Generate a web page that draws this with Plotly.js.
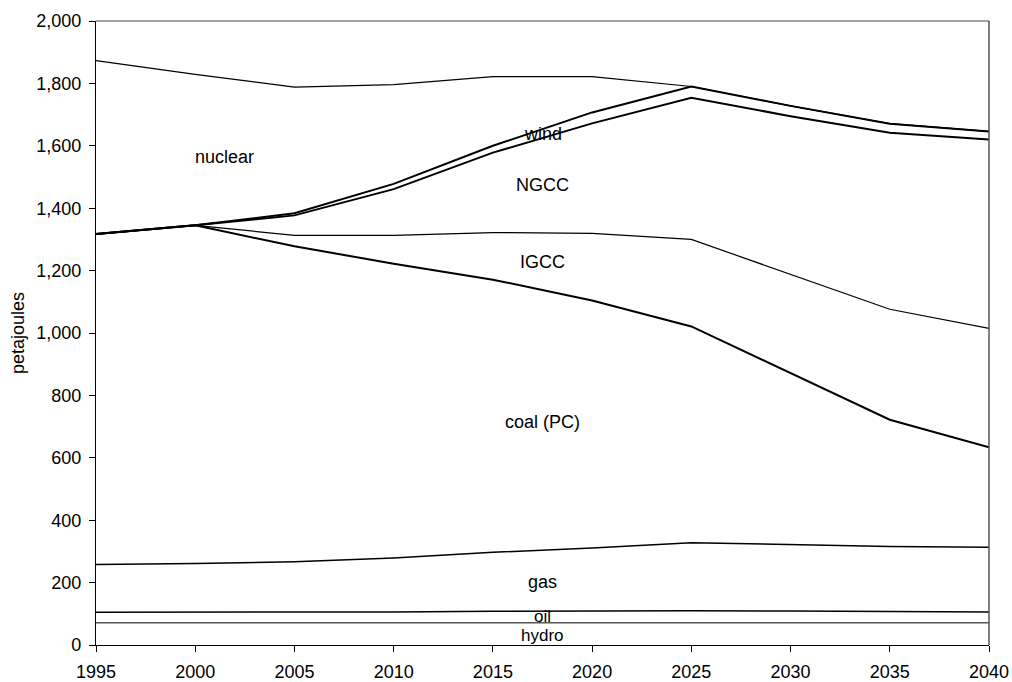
<!DOCTYPE html>
<html><head><meta charset="utf-8">
<script src="https://cdn.plot.ly/plotly-3.0.1.min.js"></script>
<style>html,body{margin:0;padding:0;background:#fff}#chart{width:1012px;height:682px}</style>
</head><body><div id="chart"></div>
<script>
const years = [1995,2000,2005,2010,2015,2020,2025,2030,2035,2040];
const seriesNames = ['hydro','oil','gas','coal (PC)','IGCC','NGCC','wind','nuclear'];
const hydro   = [71,71,71,71,71,71,71,71,71,71];
const oil     = [34,34,34,35,37,39,39,38,36,35];
const gas     = [153,156,162,173,189,201,218,212,209,207];
const coalPC  = [1059,1084,1011,943,874,793,693,551,406,321];
const igcc    = [0,0,35,91,151,215,279,316,354,381];
const ngcc    = [0,0,64,148,256,353,454,507,566,605];
const wind    = [0,0,7,17,22,35,36,33,29,26];
const nuclear = [556,484,404,318,222,115,0,0,0,0];
const yTicks = [0,200,400,600,800,1000,1200,1400,1600,1800,2000];

const series = [hydro, oil, gas, coalPC, igcc, ngcc, wind, nuclear];
const widths = [1, 1.5, 1.5, 2, 1.2, 2, 2, 1.2];
const FONT = 'Liberation Sans, Arial, sans-serif';

const traces = [];
let cum = years.map(() => 0);
series.forEach((s, i) => {
  cum = cum.map((c, j) => c + s[j]);
  traces.push({
    x: years, y: cum.slice(), type: 'scatter', mode: 'lines',
    name: seriesNames[i], showlegend: false, hoverinfo: 'skip',
    line: {color: '#000', width: widths[i]}
  });
});

const ann = (text, x, y, size) => ({text, x, y, xref: 'x', yref: 'y', showarrow: false,
  xanchor: 'center', yanchor: 'middle', font: {family: FONT, size: size || 18, color: '#000'}});

const layout = {
  width: 1012, height: 682,
  margin: {l: 96, r: 23, t: 21, b: 36.5},
  paper_bgcolor: '#fff', plot_bgcolor: '#fff',
  font: {family: FONT, size: 18, color: '#000'},
  xaxis: {
    range: [1995, 2040], tickvals: years, ticktext: years.map(String),
    ticks: 'outside', ticklen: 6, tickcolor: '#000', tickwidth: 1,
    showline: true, linecolor: '#000', linewidth: 1.2,
    showgrid: false, zeroline: false, fixedrange: true,
    tickfont: {family: FONT, size: 18, color: '#000'}, ticklabelstandoff: 4
  },
  yaxis: {
    range: [0, 2000], tickvals: yTicks, tickformat: ',',
    ticks: 'outside', ticklen: 6, tickcolor: '#000', tickwidth: 1,
    showline: true, linecolor: '#000', linewidth: 1.2,
    showgrid: false, zeroline: false, fixedrange: true,
    tickfont: {family: FONT, size: 18, color: '#000'}, ticklabelstandoff: 4,
    title: {text: 'petajoules', font: {family: FONT, size: 18, color: '#000'}, standoff: 6}
  },
  shapes: [
    {type: 'line', xref: 'paper', yref: 'paper', x0: 0, x1: 1, y0: 1, y1: 1, line: {color: '#808080', width: 1.5}},
    {type: 'line', xref: 'paper', yref: 'paper', x0: 1, x1: 1, y0: 0, y1: 1, line: {color: '#555', width: 1.5}}
  ],
  annotations: [
    ann('nuclear', 2001.5, 1565),
    ann('wind', 2017.5, 1638),
    ann('NGCC', 2017.5, 1475),
    ann('IGCC', 2017.5, 1228),
    ann('coal (PC)', 2017.5, 716),
    ann('gas', 2017.5, 203),
    ann('oil', 2017.5, 90, 17),
    ann('hydro', 2017.5, 32, 17)
  ]
};

Plotly.newPlot('chart', traces, layout, {displayModeBar: false, staticPlot: true});
</script>
</body></html>
